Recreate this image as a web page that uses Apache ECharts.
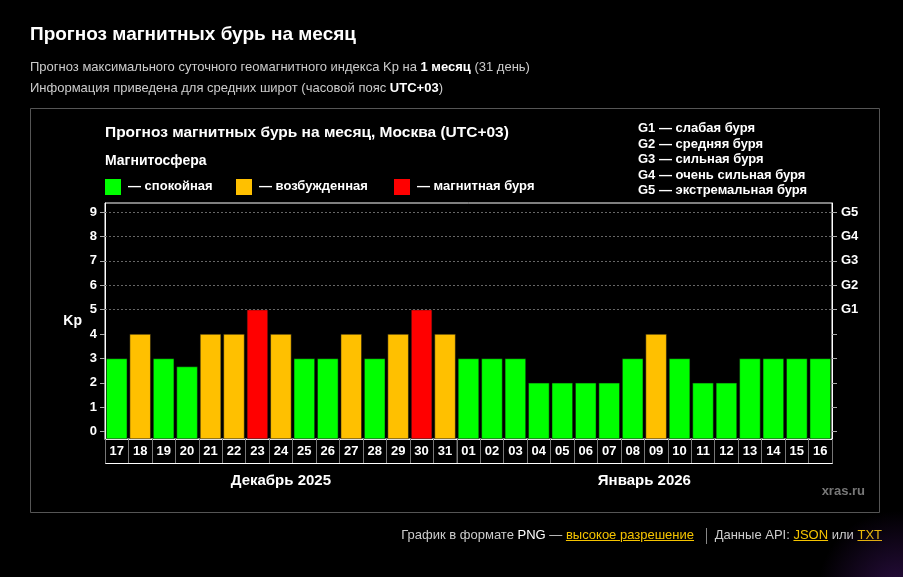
<!DOCTYPE html>
<html style="height: 100%">

<head>
    <meta charset="utf-8">
    <script src="https://cdn.jsdelivr.net/npm/echarts@6/dist/echarts.min.js"></script>
    <style>
        body { margin: 0; background: #000; font-family: "Liberation Sans", Arial, sans-serif; color: #ccc; }
        #container { position: absolute; left: 0; top: 0; width: 903px; height: 577px; }
        .txt { position: absolute; white-space: nowrap; }
        .txt b { color: #fff; }
        .lnk { color: #f5c400; text-decoration: underline; }
    </style>
</head>

<body style="height: 100%; margin: 0">
    <div id="container"></div>
    <div class="txt" style="left:30px; top:23px; font-size:19px; font-weight:bold; color:#fff;">Прогноз магнитных бурь на месяц</div>
    <div class="txt" style="left:30px; top:59px; font-size:13px;">Прогноз максимального суточного геомагнитного индекса Kp на <b>1 месяц</b> (31 день)</div>
    <div class="txt" style="left:30px; top:80px; font-size:13px;">Информация приведена для средних широт (часовой пояс <b>UTC+03</b>)</div>
    <div class="txt" style="right:21px; top:527px; font-size:13px;">График в формате <span style="color:#fff">PNG</span> — <span class="lnk">высокое разрешение</span>
        <span style="display:inline-block; width:1px; height:16px; background:#888; vertical-align:middle; margin:0 8px;"></span>Данные API: <span class="lnk">JSON</span> или <span class="lnk">TXT</span></div>
    <div style="position:absolute; left:800px; top:500px; width:140px; height:140px; background:radial-gradient(circle at 70% 65%, rgba(90,30,140,0.45), rgba(0,0,0,0) 60%);"></div>

    <script type="text/javascript">
        // дни прогноза
        var days = ['17', '18', '19', '20', '21', '22', '23', '24', '25', '26', '27', '28', '29', '30', '31',
            '01', '02', '03', '04', '05', '06', '07', '08', '09', '10', '11', '12', '13', '14', '15', '16'];
        // максимальный Kp за сутки
        var kpValues = [3, 4, 3, 2.67, 4, 4, 5, 4, 3, 3, 4, 3, 4, 5, 4,
            3, 3, 3, 2, 2, 2, 2, 3, 4, 3, 2, 2, 3, 3, 3, 3];
        var kpTicks = [0, 1, 2, 3, 4, 5, 6, 7, 8, 9];
        var stormLevels = [5, 6, 7, 8, 9];
        var stormLabels = ['G1', 'G2', 'G3', 'G4', 'G5'];
        var months = ['Декабрь 2025', 'Январь 2026'];
        var monthStart = 15; // индекс 01 января

        var green = '#00ff00', orange = '#ffc000', red = '#ff0000';
        function kpColor(v) {
            if (v >= 5) return red;
            if (v >= 4) return orange;
            return green;
        }

        var gLeft = 105, gRight = 832, gTop = 203, gBottom = 439;
        var step = (gRight - gLeft) / days.length;
        var divX = gLeft + monthStart * step;

        var bold = { fontFamily: 'Liberation Sans', fontWeight: 'bold' };

        var dom = document.getElementById("container");
        var myChart = echarts.init(dom);
        var option = {
            backgroundColor: 'transparent',
            animation: false,
            grid: {
                left: gLeft, right: 903 - gRight, top: gTop, bottom: 577 - gBottom,
                show: true, borderColor: '#fff', borderWidth: 1
            },
            xAxis: {
                type: 'category',
                data: days,
                axisLine: { show: true, onZero: false, lineStyle: { color: '#fff' } },
                axisTick: { show: true, interval: 0, length: 24, lineStyle: { color: '#777' } },
                axisLabel: { interval: 0, color: '#fff', fontSize: 13, fontWeight: 'bold', fontFamily: 'Liberation Sans', margin: 6 },
                splitLine: {
                    show: true,
                    interval: function (index) { return index === monthStart; },
                    lineStyle: { color: '#fff', width: 1 }
                }
            },
            yAxis: [{
                type: 'value',
                min: -0.3,
                max: 9.37,
                startValue: -0.3,
                name: 'Kp',
                nameLocation: 'middle',
                nameRotate: 0,
                nameGap: 23,
                nameTextStyle: { color: '#fff', fontSize: 14, fontWeight: 'bold', fontFamily: 'Liberation Sans' },
                axisLine: { show: true, lineStyle: { color: '#fff' } },
                axisTick: { show: true, length: 5, customValues: kpTicks, lineStyle: { color: '#aaa' } },
                axisLabel: { customValues: kpTicks, color: '#fff', fontSize: 13, fontWeight: 'bold', fontFamily: 'Liberation Sans', margin: 8 },
                splitLine: { show: false }
            }, {
                type: 'value',
                position: 'right',
                min: -0.3,
                max: 9.37,
                axisLine: { show: true, lineStyle: { color: '#fff' } },
                axisTick: { show: true, length: 5, customValues: kpTicks, lineStyle: { color: '#aaa' } },
                axisLabel: {
                    customValues: kpTicks, color: '#fff', fontSize: 13, fontWeight: 'bold', fontFamily: 'Liberation Sans', margin: 9,
                    formatter: function (v) {
                        var i = stormLevels.indexOf(Math.round(v));
                        return i >= 0 ? stormLabels[i] : '';
                    }
                },
                splitLine: { show: false }
            }],
            series: [{
                type: 'bar',
                data: kpValues.map(function (v) {
                    return { value: v, itemStyle: { color: kpColor(v) } };
                }),
                barCategoryGap: '10%',
                itemStyle: { borderColor: '#111', borderWidth: 0.5 },
                markLine: {
                    silent: true,
                    symbol: 'none',
                    label: { show: false },
                    lineStyle: { color: '#666', type: [2, 2], width: 1 },
                    data: stormLevels.map(function (v) { return { yAxis: v }; })
                }
            }],
            graphic: [
                { type: 'rect', shape: { x: 30.5, y: 108.5, width: 849, height: 404 }, style: { fill: 'none', stroke: '#555', lineWidth: 1 } },
                { type: 'text', left: 105, top: 125, style: Object.assign({ text: 'Прогноз магнитных бурь на месяц, Москва (UTC+03)', fill: '#fff', fontSize: 15.5 }, bold) },
                { type: 'text', left: 105, top: 154, style: Object.assign({ text: 'Магнитосфера', fill: '#fff', fontSize: 14 }, bold) },
                { type: 'rect', shape: { x: 105, y: 179, width: 16, height: 16 }, style: { fill: green } },
                { type: 'text', left: 128, top: 180, style: Object.assign({ text: '— спокойная', fill: '#fff', fontSize: 13 }, bold) },
                { type: 'rect', shape: { x: 236, y: 179, width: 16, height: 16 }, style: { fill: orange } },
                { type: 'text', left: 259, top: 180, style: Object.assign({ text: '— возбужденная', fill: '#fff', fontSize: 13 }, bold) },
                { type: 'rect', shape: { x: 394, y: 179, width: 16, height: 16 }, style: { fill: red } },
                { type: 'text', left: 417, top: 180, style: Object.assign({ text: '— магнитная буря', fill: '#fff', fontSize: 13 }, bold) },
                { type: 'text', left: 638, top: 121, style: Object.assign({ text: 'G1 — слабая буря\nG2 — средняя буря\nG3 — сильная буря\nG4 — очень сильная буря\nG5 — экстремальная буря', fill: '#fff', fontSize: 13, lineHeight: 15.5 }, bold) },
                { type: 'rect', shape: { x: gLeft + 0.5, y: gBottom + 0.5, width: gRight - gLeft, height: 24 }, style: { fill: 'none', stroke: '#fff', lineWidth: 1 } },
                { type: 'line', shape: { x1: divX + 0.5, y1: gBottom, x2: divX + 0.5, y2: gBottom + 24 }, style: { stroke: '#fff', lineWidth: 1 } },
                { type: 'text', x: (gLeft + divX) / 2, y: 481, style: Object.assign({ text: months[0], fill: '#fff', fontSize: 15, align: 'center', verticalAlign: 'middle' }, bold) },
                { type: 'text', x: (divX + gRight) / 2, y: 481, style: Object.assign({ text: months[1], fill: '#fff', fontSize: 15, align: 'center', verticalAlign: 'middle' }, bold) },
                { type: 'text', x: 865, y: 491, style: Object.assign({ text: 'xras.ru', fill: '#777', fontSize: 13, align: 'right', verticalAlign: 'middle' }, bold) }
            ]
        };
        myChart.setOption(option, true);
    </script>
</body>

</html>
